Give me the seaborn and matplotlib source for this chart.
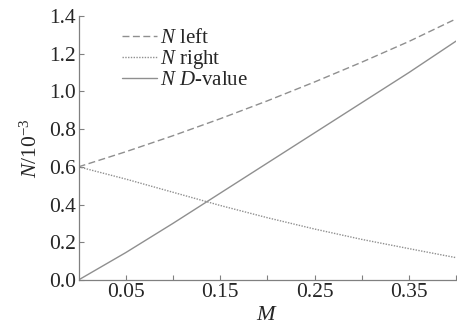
import numpy as np
import pandas as pd
import seaborn as sns
import matplotlib
matplotlib.use('Agg')
import matplotlib.pyplot as plt

# values (N in units of 1e-3)
m = [0.0, 0.05, 0.10, 0.15, 0.20, 0.25, 0.30, 0.35, 0.40]
n_left = [0.60, 0.68, 0.765, 0.855, 0.95, 1.05, 1.155, 1.265, 1.385]
n_right = [0.60, 0.535, 0.465, 0.395, 0.33, 0.27, 0.215, 0.166, 0.118]
n_dvalue = [0.0, 0.145, 0.30, 0.46, 0.62, 0.78, 0.94, 1.10, 1.267]

x_ticks = [0.05, 0.15, 0.25, 0.35]
x_minor = [0.10, 0.20, 0.30, 0.40]
y_ticks = [0.0, 0.2, 0.4, 0.6, 0.8, 1.0, 1.2, 1.4]

sns.set_style('ticks')
plt.rcParams['font.family'] = ['Liberation Serif', 'DejaVu Serif']
plt.rcParams['mathtext.fontset'] = 'custom'
plt.rcParams['mathtext.rm'] = 'Liberation Serif'
plt.rcParams['mathtext.it'] = 'Liberation Serif:italic'

fig = plt.figure(figsize=(4.57, 3.27), dpi=100)
ax = fig.add_axes([0.172, 0.144, 0.826, 0.807])

grey = '#8f8f8f'
sns.lineplot(x=m, y=n_left, ax=ax, color=grey, lw=1.0, ls=(0, (5, 2.5)),
             label=r'$N$ left')
sns.lineplot(x=m, y=n_right, ax=ax, color=grey, lw=1.0, ls=(0, (1, 1)),
             label=r'$N$ right')
sns.lineplot(x=m, y=n_dvalue, ax=ax, color=grey, lw=1.0, ls='-',
             label=r'$N$ $D$-value')

ax.set_xlim(0, 0.40)
ax.set_ylim(0, 1.4)
ax.set_xticks(x_ticks)
ax.set_xticks(x_minor, minor=True)
ax.set_yticks(y_ticks)
ax.set_yticklabels([f'{v:.1f}' for v in y_ticks])
ax.tick_params(axis='both', which='both', direction='in', length=3.5,
               width=0.8, color='#808080', labelsize=15.5, pad=2)
for s in ['top', 'right']:
    ax.spines[s].set_visible(False)
for s in ['left', 'bottom']:
    ax.spines[s].set_color('#808080')
    ax.spines[s].set_linewidth(0.9)

ax.set_xlabel(r'$M$', fontsize=16, labelpad=3)
ax.set_ylabel(r'$N$/10$^{-3}$', fontsize=15.5, labelpad=5)

ax.legend(loc='upper left', bbox_to_anchor=(0.094, 0.985), frameon=False,
          fontsize=15, handlelength=1.65, handletextpad=0.15,
          labelspacing=0.0, borderaxespad=0)

fig.savefig('out.png', dpi=100)
